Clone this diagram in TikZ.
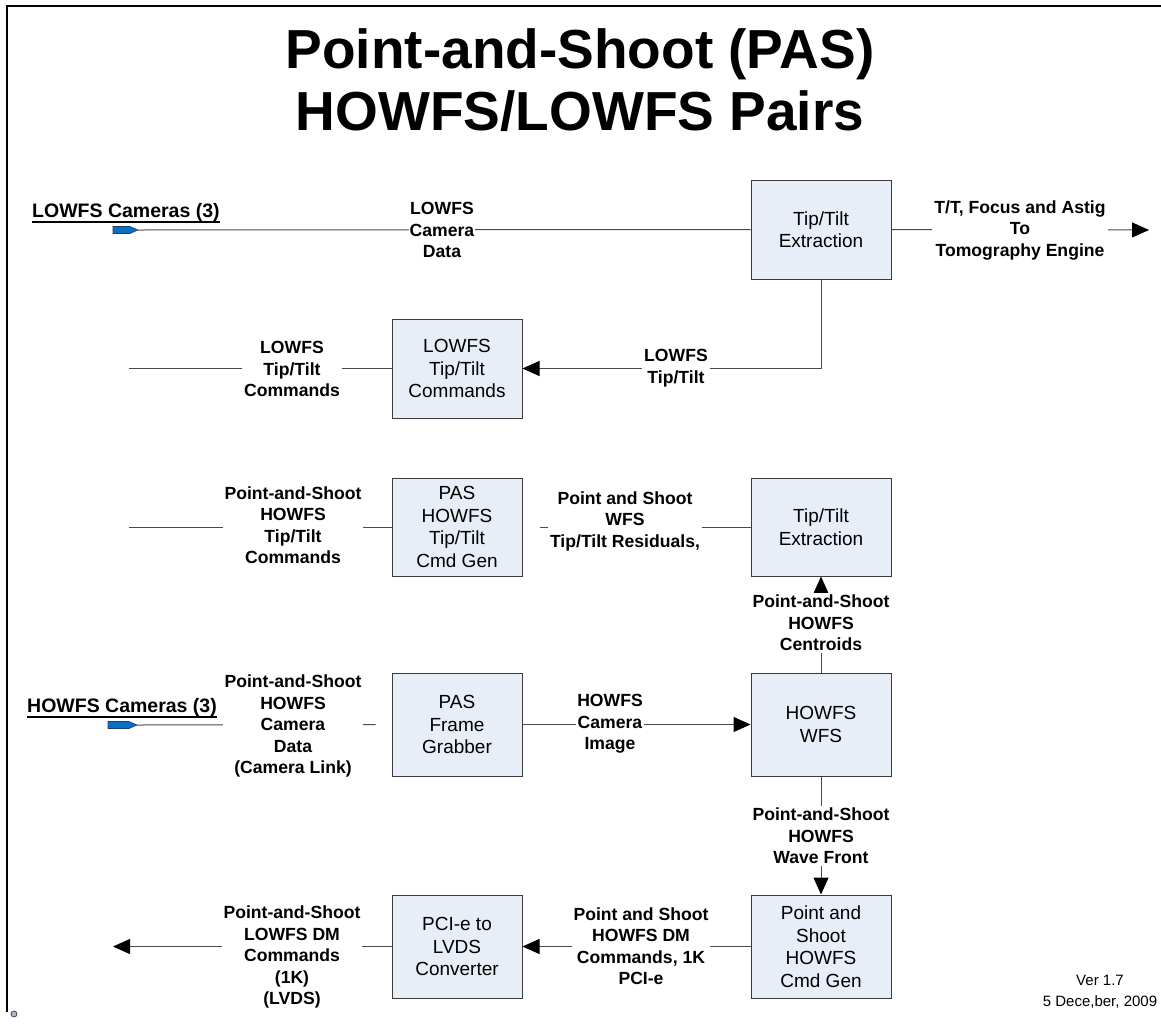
\documentclass[tikz,border=0pt]{standalone}
\usepackage{fontspec}
\setmainfont{Liberation Sans}
\usetikzlibrary{arrows.meta}
\definecolor{boxfill}{HTML}{E8EEF7}
\definecolor{boxline}{HTML}{3A3A3A}
\definecolor{wirecol}{HTML}{4A4A4A}
\definecolor{camblue}{HTML}{0B6FC6}
\definecolor{camedge}{HTML}{1F3F6A}
\definecolor{dotfill}{HTML}{A9B9D6}

\begin{document}
\begin{tikzpicture}[x=1pt,y=-1pt,
  blk/.style={draw=boxline, line width=1pt, fill=boxfill, align=center, inner sep=0pt,
    font=\fontsize{19}{22.5}\selectfont},
  wideblk/.style={blk, minimum width=140pt},
  narrowblk/.style={blk, minimum width=130pt},
  lbl/.style={fill=white, align=center, inner sep=2pt,
    font=\fontsize{17.6}{21.5}\selectfont\bfseries},
  wire/.style={draw=wirecol, line width=1pt},
  flow/.style={wire, -{Triangle[length=17pt,width=15pt,color=black]}},
  camlbl/.style={font=\fontsize{19.5}{22}\selectfont\bfseries, anchor=base west, inner sep=0pt},
  titletext/.style={font=\fontsize{55}{62}\selectfont\bfseries, anchor=base},
  camicon/.style={fill=camblue, draw=camedge, line width=0.6pt},
]
\useasboundingbox (0,0) rectangle (1161,1023);

% page frame (left and top edges)
\draw[line width=2.5pt] (7,1012) -- (7,6) -- (1161,6);
\draw[fill=dotfill, draw=boxline, line width=0.7pt] (14,1014) circle (3);

% title
\node[titletext] (t1) at (580,68) {Point-and-Shoot (PAS)};
\node[titletext] (t2) at (580,130) {HOWFS/LOWFS Pairs};

% processing blocks
\node[wideblk, minimum height=99pt]  (tt1)  at (821,229.5) {Tip/Tilt\\Extraction};
\node[narrowblk, minimum height=99pt] (lcmd) at (457,368.5) {LOWFS\\Tip/Tilt\\Commands};
\node[narrowblk, minimum height=98pt] (pasg) at (457,527) {PAS\\HOWFS\\Tip/Tilt\\Cmd Gen};
\node[wideblk, minimum height=98pt]  (tt2)  at (821,527) {Tip/Tilt\\Extraction};
\node[narrowblk, minimum height=103pt] (fg)  at (457,724.5) {PAS\\Frame\\Grabber};
\node[wideblk, minimum height=103pt] (wfs)  at (821,724.5) {HOWFS\\WFS};
\node[wideblk, minimum height=103pt] (cg)   at (821,946.5) {Point and\\Shoot\\HOWFS\\Cmd Gen};
\node[narrowblk, minimum height=103pt] (pci) at (457,946.5) {PCI-e to\\LVDS\\Converter};

% camera inputs
\node[camlbl] (lcl) at (32,217) {LOWFS Cameras (3)};
\draw[line width=2pt] ([yshift=-4.5pt]lcl.base west) -- ([yshift=-4.5pt]lcl.base east);
\draw[camicon] (113,226.5) -- (130,226.5) -- (138,230) -- (130,233.5) -- (113,233.5) -- cycle;
\coordinate (lcam) at (138,230);

\node[camlbl] (hcl) at (27,712) {HOWFS Cameras (3)};
\draw[line width=2pt] ([yshift=-4.5pt]hcl.base west) -- ([yshift=-4.5pt]hcl.base east);
\draw[camicon] (108,721.5) -- (129,721.5) -- (137,725) -- (129,728.5) -- (108,728.5) -- cycle;
\coordinate (hcam) at (137,725);

% free ends
\coordinate (tomo)  at (1149,230);
\coordinate (lout)  at (129,368.5);
\coordinate (pout)  at (129,527);
\coordinate (dmout) at (113,946.5);

% LOWFS path
\draw[wire] (lcam) -- (tt1.west);
\node[lbl, inner sep=1pt] (lcd) at (442,230) {LOWFS\\Camera\\Data};
\draw[flow] (tt1.east) -- (tomo);
\node[lbl] (tomol) at (1020,230) {T/T, Focus and Astig\\To\\Tomography Engine};
\draw[flow] (tt1.south) |- (lcmd.east);
\node[lbl] (lttl) at (676,368) {LOWFS\\Tip/Tilt};
\draw[wire] (lcmd.west) -- (lout);
\node[lbl] (lcmdl) at (292,369) {LOWFS\\Tip/Tilt\\Commands};

% point-and-shoot tip/tilt path
\draw[wire] (pasg.west) -- (pout);
\node[lbl] (ptcl) at (293,525) {Point-and-Shoot\\HOWFS\\Tip/Tilt\\Commands};
\draw[wire] ([xshift=17pt]pasg.east) -- (tt2.west);
\node[lbl] (resl) at (625,521) {Point and Shoot\\WFS\\Tip/Tilt Residuals,};
\draw[flow] (wfs.north) -- (tt2.south);
\node[lbl] (cenl) at (821,623) {Point-and-Shoot\\HOWFS\\Centroids};

% HOWFS camera path
\draw[wire] (hcam) -- ([xshift=-16pt]fg.west);
\node[lbl] (hcdl) at (293,726) {Point-and-Shoot\\HOWFS\\Camera\\Data\\(Camera Link)};
\draw[flow] (fg.east) -- (wfs.west);
\node[lbl, inner sep=1pt] (imgl) at (610,724) {HOWFS\\Camera\\Image};

% DM command path
\draw[flow] (wfs.south) -- (cg.north);
\node[lbl] (wfl) at (821,836) {Point-and-Shoot\\HOWFS\\Wave Front};
\draw[flow] (cg.west) -- (pci.east);
\node[lbl] (dml) at (641,946) {Point and Shoot\\HOWFS DM\\Commands, 1K\\PCI-e};
\draw[flow] (pci.west) -- (dmout);
\node[lbl] (lvl) at (292,957) {Point-and-Shoot\\LOWFS DM\\Commands\\(1K)\\(LVDS)};

% version note
\node[font=\fontsize{15}{20.5}\selectfont, align=center] (ver) at (1100,992) {Ver 1.7\\5 Dece,ber, 2009};
\end{tikzpicture}
\end{document}
